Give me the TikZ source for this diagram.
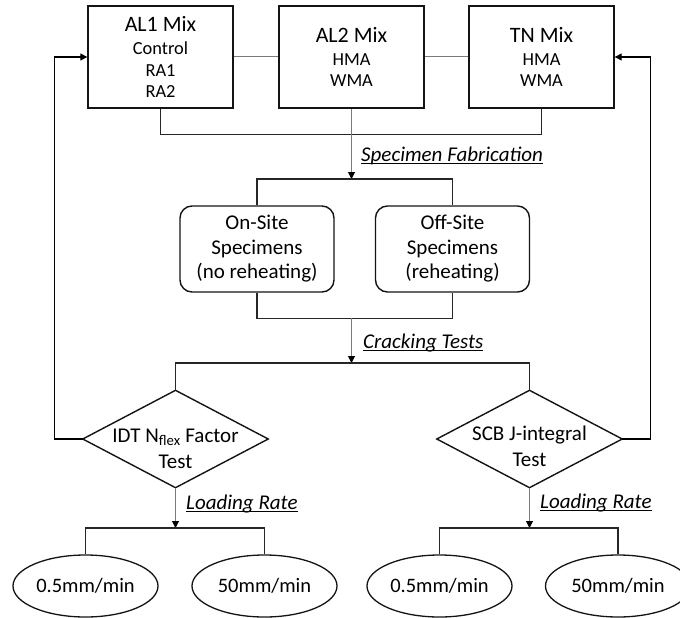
\documentclass[tikz,border=0pt]{standalone}
\usepackage{fontspec}
\setmainfont{Carlito}
\usetikzlibrary{shapes.geometric,arrows.meta}
\definecolor{boxc}{HTML}{141414}
\definecolor{brc}{HTML}{262626}
\definecolor{grc}{HTML}{7A7A7A}
\begin{document}
\begin{tikzpicture}[x=1pt,y=-1pt,
  mixbox/.style={draw=boxc, line width=1.4pt, minimum width=145pt, minimum height=102pt, inner sep=0pt, align=center, font=\fontsize{18.4}{21.5}\selectfont},
  specbox/.style={draw=boxc, line width=1.4pt, rounded corners=12pt, minimum width=154pt, minimum height=86pt, inner sep=0pt, align=center, font=\fontsize{21}{24.5}\selectfont},
  diabox/.style={minimum width=185pt, minimum height=97pt, inner sep=0pt},
  diatext/.style={inner sep=0pt, align=center, font=\fontsize{21}{26}\selectfont},
  ell/.style={ellipse, draw=boxc, line width=1.3pt, minimum width=145pt, minimum height=62pt, inner sep=0pt, font=\fontsize{20.5}{24}\selectfont},
  lab/.style={anchor=base west, inner sep=0pt, font=\fontsize{21}{24}\selectfont\itshape},
  uline/.style={draw=black, line width=1.1pt},
  boxline/.style={draw=boxc, line width=1.4pt},
  bracket/.style={draw=brc, line width=1.5pt},
  grayline/.style={draw=grc, line width=1pt},
  grayarrow/.style={draw=grc, line width=1pt, -{Triangle[length=7pt,width=7pt,color=black]}},
  blackarrow/.style={draw=black, line width=1.3pt, -{Triangle[length=7pt,width=7pt,color=black]}}
]
\useasboundingbox (0,0) rectangle (680,618);
\clip (0,0) rectangle (680,618);
\fill[white] (0,0) rectangle (680,618);

% mix boxes
\node[mixbox] (al1) at (160.5,57) {{\fontsize{22}{23}\selectfont AL1 Mix}\\[1.5pt]Control\\RA1\\RA2};
\node[mixbox] (al2) at (351.5,57) {{\fontsize{22}{23}\selectfont AL2 Mix}\\[1.5pt]HMA\\WMA};
\node[mixbox] (tn) at (541.5,57) {{\fontsize{22}{23}\selectfont TN Mix}\\[1.5pt]HMA\\WMA};

\draw[grayline] (al1.east) -- (al2.west);
\draw[grayline] (al2.east) -- (tn.west);
\draw[bracket] (al1.south) -- ++(0,26) -| (tn.south);

% specimens
\node[specbox] (onsite) at (257,249) {On-Site\\Specimens\\(no reheating)};
\node[specbox] (offsite) at (452.5,249) {Off-Site\\Specimens\\(reheating)};

\coordinate (b1) at (351.5,179);
\draw[grayarrow] (al2.south) -- (b1);
\draw[bracket] (onsite.north) |- (b1) -| (offsite.north);
\node[lab] (lab1) at (361,161) {Specimen Fabrication};
\draw[uline] ([yshift=-2.6pt]lab1.base west) -- ([yshift=-2.6pt]lab1.base east);

\coordinate (j2) at (351.5,318);
\coordinate (b3) at (351.5,363);
\draw[bracket] (onsite.south) -- ++(0,26) -| (offsite.south);
\draw[grayarrow] (j2) -- (b3);
\node[lab] (lab2) at (363,348) {Cracking Tests};
\draw[uline] ([yshift=-2.6pt]lab2.base west) -- ([yshift=-2.6pt]lab2.base east);

% diamonds
\node[diabox] (d1) at (175.5,439) {};
\node[diabox] (d2) at (529.5,439) {};
\draw[boxline] (d1.west) -- (d1.north) -- (d1.east) -- (d1.south) -- cycle;
\draw[boxline] (d2.west) -- (d2.north) -- (d2.east) -- (d2.south) -- cycle;
\node[diatext] (t1) at (175.5,449) {IDT N\textsubscript{flex} Factor\\Test};
\node[diatext] (t2) at (529.5,446) {SCB J-integral\\Test};
\draw[bracket] (d1.north) |- (b3) -| (d2.north);

% feedback
\draw[blackarrow] (d1.west) -- ++(-28,0) |- (al1.west);
\draw[blackarrow] (d2.east) -- ++(28,0) |- (tn.east);

% loading rate
\node[ell] (e1) at (85.5,586) {0.5mm/min};
\node[ell] (e2) at (264.5,586) {50mm/min};
\node[ell] (e3) at (439.5,586) {0.5mm/min};
\node[ell] (e4) at (618,586) {50mm/min};
\coordinate (b4) at (175.5,528);
\coordinate (b5) at (529.5,528);
\draw[grayarrow] (d1.south) -- (b4);
\draw[grayarrow] (d2.south) -- (b5);
\draw[bracket] (e1.north) |- (b4) -| (e2.north);
\draw[bracket] (e3.north) |- (b5) -| (e4.north);
\node[lab] (lab3) at (186,509) {Loading Rate};
\draw[uline] ([yshift=-2.6pt]lab3.base west) -- ([yshift=-2.6pt]lab3.base east);
\node[lab] (lab4) at (540,508) {Loading Rate};
\draw[uline] ([yshift=-2.6pt]lab4.base west) -- ([yshift=-2.6pt]lab4.base east);
\end{tikzpicture}
\end{document}
